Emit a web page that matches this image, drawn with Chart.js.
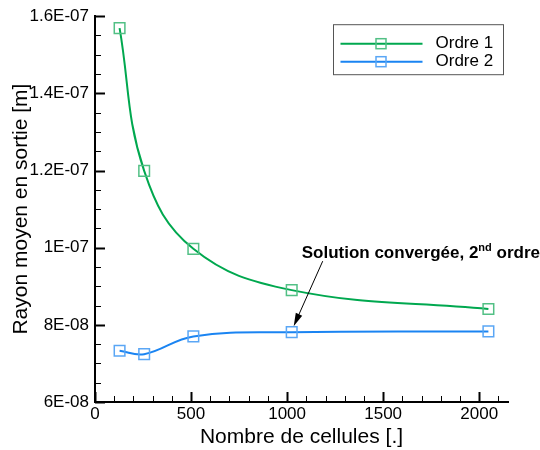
<!DOCTYPE html>
<html>
<head>
<meta charset="utf-8">
<script src="https://cdn.jsdelivr.net/npm/chart.js@4"></script>
<style>
  html, body { margin: 0; padding: 0; background: #fff; }
  #wrap { width: 540px; height: 450px; }
</style>
</head>
<body>
<div id="wrap"><canvas id="chart"></canvas></div>
<script>
'use strict';

const CELLS = [128, 256, 512, 1024, 2048];
const ORDRE_1 = [1.569e-7, 1.199e-7, 0.997e-7, 0.890e-7, 0.841e-7];
const ORDRE_2 = [0.733e-7, 0.724e-7, 0.770e-7, 0.781e-7, 0.783e-7];
const SERIES_LABELS = ['Ordre 1', 'Ordre 2'];
const X_TICKS = [0, 500, 1000, 1500, 2000];
const Y_TICKS = [6e-8, 8e-8, 1e-7, 1.2e-7, 1.4e-7, 1.6e-7];
const Y_TICK_LABELS = ['6E-08', '8E-08', '1E-07', '1.2E-07', '1.4E-07', '1.6E-07'];
const NOTE_POINT = 3; // index of the converged 2nd-order point

const FONT = '"Liberation Sans", Arial, Helvetica, sans-serif';
const LINE_COLORS = ['#00a84f', '#1a84f2'];
const MARK_COLORS = ['#52c085', '#5aa6f5'];

// inward major/minor ticks, legend box and the arrow note
const framePlugin = {
  id: 'frame',
  afterDraw(chart) {
    const { ctx, chartArea: area } = chart;
    const xs = chart.scales.x;
    const ys = chart.scales.y;
    ctx.save();
    ctx.strokeStyle = '#000';

    for (let v = xs.min; v <= xs.max + 1e-9; v += 100) {
      const major = X_TICKS.includes(Math.round(v));
      const x = Math.round(xs.getPixelForValue(v)) + 0.5;
      ctx.lineWidth = major ? 2 : 1;
      ctx.beginPath();
      ctx.moveTo(x, area.bottom);
      ctx.lineTo(x, area.bottom - (major ? 10 : 6));
      ctx.stroke();
    }
    for (let i = 0; i <= 20; i++) {
      const v = ys.min + i * 5e-9;
      const major = i % 4 === 0;
      const y = Math.round(ys.getPixelForValue(v)) + 0.5;
      ctx.lineWidth = major ? 2 : 1;
      ctx.beginPath();
      ctx.moveTo(area.left, y);
      ctx.lineTo(area.left + (major ? 10 : 6), y);
      ctx.stroke();
    }

    // legend
    const bx = area.right - 174.5;
    const by = area.top + 8.5;
    ctx.lineWidth = 1;
    ctx.strokeStyle = '#555';
    ctx.strokeRect(bx, by, 170, 50);
    ctx.font = `17px ${FONT}`;
    ctx.textBaseline = 'middle';
    chart.data.datasets.forEach((ds, i) => {
      const y = by + 19 + i * 18;
      ctx.strokeStyle = ds.borderColor;
      ctx.lineWidth = 2;
      ctx.beginPath();
      ctx.moveTo(bx + 7, y);
      ctx.lineTo(bx + 89, y);
      ctx.stroke();
      ctx.strokeStyle = ds.pointBorderColor;
      ctx.lineWidth = 1.5;
      ctx.strokeRect(bx + 42.5, y - 5, 10, 10);
      ctx.fillStyle = '#000';
      ctx.fillText(ds.label, bx + 102, y);
    });

    // annotation pointing at the converged point
    const p = chart.getDatasetMeta(1).data[NOTE_POINT];
    const tipX = p.x + 2, tipY = p.y - 6;
    const startX = p.x + 31, startY = p.y - 71;
    const ang = Math.atan2(tipY - startY, tipX - startX);
    ctx.strokeStyle = '#000';
    ctx.fillStyle = '#000';
    ctx.lineWidth = 1;
    ctx.beginPath();
    ctx.moveTo(startX, startY);
    ctx.lineTo(tipX - 10 * Math.cos(ang), tipY - 10 * Math.sin(ang));
    ctx.stroke();
    ctx.beginPath();
    ctx.moveTo(tipX, tipY);
    ctx.lineTo(tipX - 13 * Math.cos(ang) + 3.5 * Math.sin(ang), tipY - 13 * Math.sin(ang) - 3.5 * Math.cos(ang));
    ctx.lineTo(tipX - 13 * Math.cos(ang) - 3.5 * Math.sin(ang), tipY - 13 * Math.sin(ang) + 3.5 * Math.cos(ang));
    ctx.closePath();
    ctx.fill();

    let tx = p.x + 10;
    const ty = p.y - 74;
    ctx.textBaseline = 'alphabetic';
    ctx.textAlign = 'left';
    ctx.font = `bold 17px ${FONT}`;
    ctx.fillText('Solution convergée, 2', tx, ty);
    tx += ctx.measureText('Solution convergée, 2').width;
    ctx.font = `bold 11px ${FONT}`;
    ctx.fillText('nd', tx, ty - 7);
    tx += ctx.measureText('nd').width;
    ctx.font = `bold 17px ${FONT}`;
    ctx.fillText(' ordre', tx, ty);
    ctx.restore();
  },
};

const datasets = [ORDRE_1, ORDRE_2].map((values, i) => ({
  label: SERIES_LABELS[i],
  data: CELLS.map((c, j) => ({ x: c, y: values[j] })),
  borderColor: LINE_COLORS[i],
  borderWidth: 2,
  pointStyle: 'rect',
  pointRadius: 7.5,
  pointBorderWidth: 1.5,
  pointBorderColor: MARK_COLORS[i],
  pointBackgroundColor: 'rgba(0,0,0,0)',
  tension: 0.4,
  clip: false,
}));

new Chart(document.getElementById('chart'), {
  type: 'line',
  data: { datasets },
  options: {
    responsive: true,
    maintainAspectRatio: false,
    animation: false,
    devicePixelRatio: 1,
    layout: { padding: { top: 15, right: 32, left: 0, bottom: 0 } },
    plugins: { legend: { display: false }, tooltip: { enabled: false } },
    scales: {
      x: {
        type: 'linear',
        min: 0,
        max: 2150,
        afterBuildTicks: s => { s.ticks = X_TICKS.map(value => ({ value })); },
        afterFit: s => { s.height = 48; },
        grid: { display: false, drawTicks: false },
        border: { display: true, color: '#000', width: 2 },
        ticks: {
          color: '#000', padding: 2, font: { family: FONT, size: 17 },
          callback: v => String(v),
        },
        title: {
          display: true, text: 'Nombre de cellules [.]', color: '#000',
          font: { family: FONT, size: 21 }, padding: { top: 0, bottom: 0 },
        },
      },
      y: {
        type: 'linear',
        min: 6e-8,
        max: 1.6e-7,
        afterBuildTicks: s => { s.ticks = Y_TICKS.map(value => ({ value })); },
        afterFit: s => { s.width = 95; },
        grid: { display: false, drawTicks: false },
        border: { display: true, color: '#000', width: 2 },
        ticks: {
          color: '#000', padding: 6, font: { family: FONT, size: 17 },
          callback: (v, i) => Y_TICK_LABELS[i],
        },
        title: {
          display: true, text: 'Rayon moyen en sortie [m]', color: '#000',
          font: { family: FONT, size: 21 }, padding: { top: 9, bottom: 0 },
        },
      },
    },
  },
  plugins: [framePlugin],
});
</script>
</body>
</html>
